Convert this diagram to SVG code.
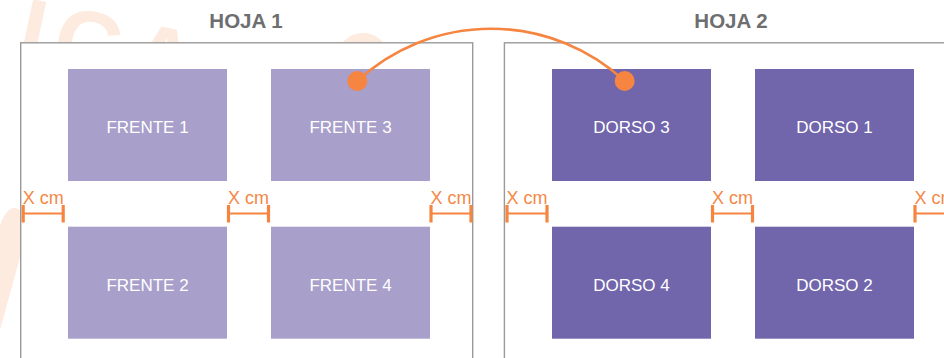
<svg xmlns="http://www.w3.org/2000/svg" width="944" height="358" viewBox="0 0 944 358">
<style>
.sheet{fill:#fff;stroke:#9a9a9a;stroke-width:1.4}
.title{font-family:"Liberation Sans",Arial,sans-serif;font-weight:bold;font-size:20.5px;fill:#6d6e70;text-anchor:middle}
.f{fill:#a89fcb}
.d{fill:#7165ab}
.lbl{font-family:"Liberation Sans",Arial,sans-serif;font-size:17px;fill:#fff;text-anchor:middle}
.xcm{font-family:"Liberation Sans",Arial,sans-serif;font-size:18px;fill:#f58846;text-anchor:middle}
.dim{stroke:#f58540;fill:none}
.wm{fill:#fdebdf}
</style>
<defs>
<g id="dimMark">
<path class="dim" stroke-width="2.2" d="M1.5 0H41.5"/>
<path class="dim" stroke-width="3.2" d="M1.5 -8.5V9M41.5 -8.5V9"/>
</g>
</defs>
<g id="watermark">
<text x="0" y="0" transform="translate(14 60) rotate(12)" font-family="Liberation Sans,Arial,sans-serif" font-weight="bold" font-size="92" fill="#fdebdf" letter-spacing="10">ICA</text>
<circle class="wm" cx="363" cy="60" r="27"/>
<path class="wm" d="M0 225 Q10 200 22 212 L22 250 L0 330 Z"/>
</g>
<g id="hoja1">
<rect class="sheet" x="20.7" y="42.8" width="452" height="330"/>
<text class="title" x="246" y="28">HOJA 1</text>
</g>
<g id="hoja2">
<rect class="sheet" x="504.4" y="42.8" width="452" height="330"/>
<text class="title" x="731" y="28">HOJA 2</text>
</g>
<g id="frente1"><rect class="f" x="68" y="69" width="159" height="112"/><text class="lbl" x="147.5" y="133.3">FRENTE 1</text></g>
<g id="frente3"><rect class="f" x="271" y="69" width="159" height="112"/><text class="lbl" x="350.5" y="133.3">FRENTE 3</text></g>
<g id="frente2"><rect class="f" x="68" y="226.7" width="159" height="112"/><text class="lbl" x="147.5" y="291">FRENTE 2</text></g>
<g id="frente4"><rect class="f" x="271" y="226.7" width="159" height="112"/><text class="lbl" x="350.5" y="291">FRENTE 4</text></g>
<g id="dorso3"><rect class="d" x="552" y="69" width="159" height="112"/><text class="lbl" x="631.5" y="133.3">DORSO 3</text></g>
<g id="dorso1"><rect class="d" x="755" y="69" width="159" height="112"/><text class="lbl" x="834.5" y="133.3">DORSO 1</text></g>
<g id="dorso4"><rect class="d" x="552" y="226.7" width="159" height="112"/><text class="lbl" x="631.5" y="291">DORSO 4</text></g>
<g id="dorso2"><rect class="d" x="755" y="226.7" width="159" height="112"/><text class="lbl" x="834.5" y="291">DORSO 2</text></g>
<g id="medidas">
<use href="#dimMark" x="21.7" y="213.5"/><text class="xcm" x="43.2" y="203.5">X cm</text>
<use href="#dimMark" x="227" y="213.5"/><text class="xcm" x="248.5" y="203.5">X cm</text>
<use href="#dimMark" x="429.5" y="213.5"/><text class="xcm" x="451" y="203.5">X cm</text>
<use href="#dimMark" x="505.5" y="213.5"/><text class="xcm" x="527" y="203.5">X cm</text>
<use href="#dimMark" x="711" y="213.5"/><text class="xcm" x="732.5" y="203.5">X cm</text>
<use href="#dimMark" x="913.5" y="213.5"/><text class="xcm" x="935" y="203.5">X cm</text>
</g>
<g id="connectors">
<path d="M357.3 81 A197 197 0 0 1 624.7 81" fill="none" stroke="#f58540" stroke-width="2.6"/>
<circle cx="357.3" cy="81" r="10" fill="#f58540"/>
<circle cx="624.7" cy="81" r="10" fill="#f58540"/>
</g>
</svg>
